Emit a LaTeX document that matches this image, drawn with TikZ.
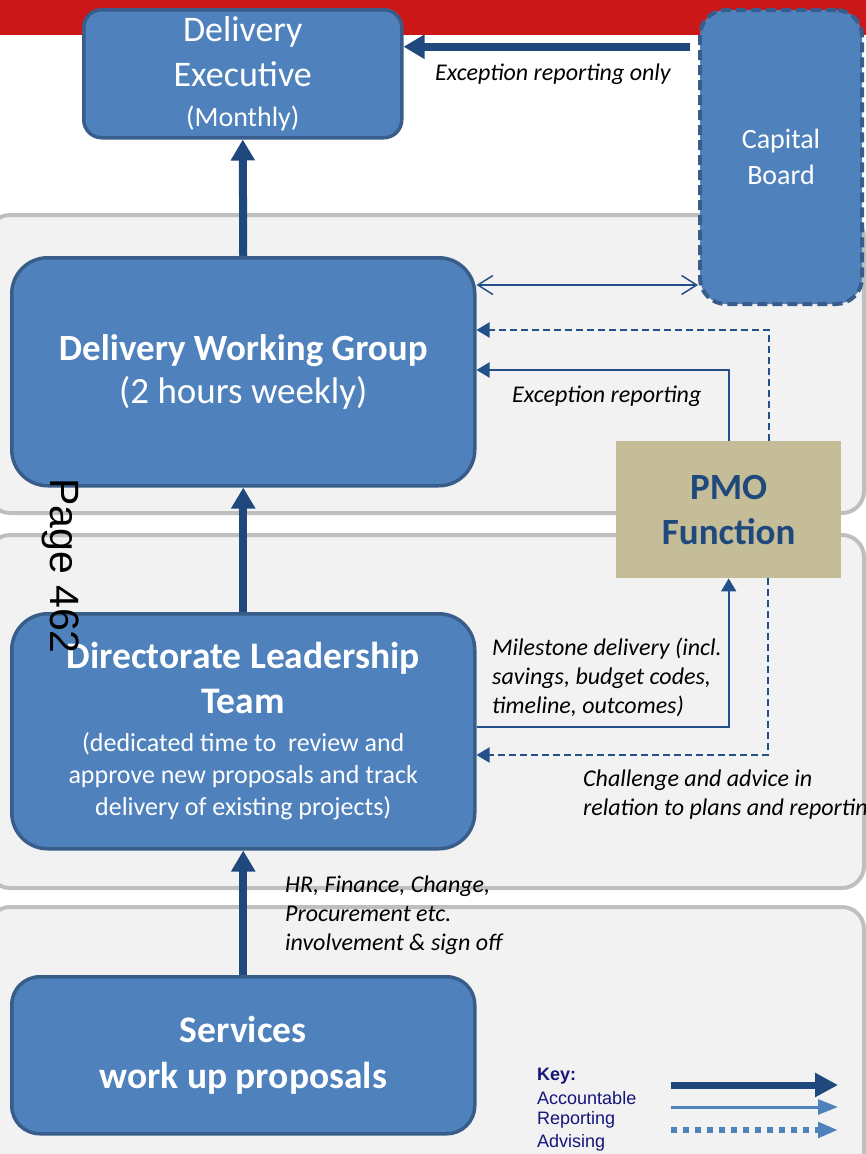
\documentclass[tikz,border=0pt]{standalone}
\usepackage{fontspec}
\setmainfont{Carlito}
\newfontfamily\arialfont{Liberation Sans}
\usetikzlibrary{arrows.meta}
\definecolor{redband}{HTML}{CC1719}
\definecolor{panelline}{HTML}{BFBFBF}
\definecolor{panelfill}{HTML}{F2F2F2}
\definecolor{boxfill}{HTML}{4F81BD}
\definecolor{boxline}{HTML}{385D8A}
\definecolor{accblue}{HTML}{1F497D}
\definecolor{repblue}{HTML}{24508A}
\definecolor{keyrep}{HTML}{4F81BD}
\definecolor{pmofill}{HTML}{C4BD97}
\definecolor{pmotext}{HTML}{1F497D}
\definecolor{keytext}{HTML}{15157A}
\newcommand\dlttitle{\bfseries\fontsize{37.5}{45}\selectfont}
\begin{document}
\begin{tikzpicture}[x=1pt,y=-1pt,
  panel/.style={draw=panelline,fill=panelfill,line width=4pt,rounded corners=22pt},
  bluebox/.style={draw=boxline,fill=boxfill,line width=3.5pt,text=white,align=center,inner sep=0pt,anchor=north west},
  acc/.style={draw=accblue,line width=8pt,-{Triangle[length=21pt,width=23pt]}},
  rep/.style={draw=repblue,line width=2pt,-{Triangle[length=13pt,width=15pt]}},
  adv/.style={draw=repblue,line width=2pt,dash pattern=on 7pt off 4pt,-{Triangle[length=13pt,width=15pt]}},
  bidir/.style={draw=repblue,line width=1.5pt,{Straight Barb[length=15pt,width=19pt]}-{Straight Barb[length=15pt,width=19pt]}},
  lab/.style={font=\fontsize{24}{29}\selectfont\itshape,align=left,inner sep=0pt,anchor=west},
  keytxt/.style={font=\arialfont\fontsize{18}{22}\selectfont,text=keytext,inner sep=0pt,anchor=west},
  keyacc/.style={draw=accblue,line width=7pt,-{Triangle[length=23pt,width=23pt]}},
  keyrepl/.style={draw=keyrep,line width=3pt,-{Triangle[length=20pt,width=15pt]}},
  keyadv/.style={draw=keyrep,line width=6pt,dash pattern=on 6pt off 6pt,-{Triangle[length=20pt,width=15pt]}}
]
\useasboundingbox (0,0) rectangle (866,1154);
\fill[redband] (0,0) rectangle (866,35);
\draw[panel] (-12,215) rectangle (864,513);
\draw[panel] (-12,535) rectangle (864,888);
\draw[panel] (-12,907) rectangle (864,1180);

% boxes
\node[bluebox,rounded corners=18pt,minimum width=318pt,minimum height=128pt,font=\fontsize{36}{45}\selectfont] (de) at (82,8)
  {Delivery\\Executive\\[-5pt]\fontsize{28}{34}\selectfont(Monthly)};
\node[bluebox,rounded corners=26pt,minimum width=162pt,minimum height=294pt,line width=4pt,dash pattern=on 10pt off 5pt,font=\fontsize{28}{36}\selectfont] (cb) at (698,8)
  {Capital\\Board};
\node[bluebox,rounded corners=36pt,minimum width=463pt,minimum height=228pt,font=\fontsize{37}{43}\selectfont] (dwg) at (10,256)
  {\textbf{Delivery Working Group}\\(2 hours weekly)};
\node[fill=pmofill,minimum width=225pt,minimum height=137pt,inner sep=0pt,anchor=north west,align=center,text=pmotext,font=\bfseries\fontsize{37}{45}\selectfont] (pmo) at (616,441)
  {PMO\\Function};
\node[bluebox,rounded corners=36pt,minimum width=463pt,minimum height=235pt,font=\fontsize{26}{32}\selectfont] (dlt) at (10,612)
  {{\dlttitle Directorate Leadership}\\[13pt]{\dlttitle Team}\\[6pt](dedicated time to~ review and\\approve new proposals and track\\delivery of existing projects)};
\node[bluebox,rounded corners=28pt,minimum width=463pt,minimum height=157pt,font=\bfseries\fontsize{37.5}{46}\selectfont] (srv) at (10,975)
  {Services\\work up proposals};

% connectors
\draw[acc] (dwg.north) -- (de.south);
\coordinate (deIn) at ([yshift=27pt]de.east);
\draw[acc,shorten <=8pt] (cb.west |- deIn) -- (deIn);
\node[lab] (l1) at (435,74) {Exception reporting only};
\draw[bidir] (dwg.east |- 0,285) -- (cb.west |- 0,285);
\draw[rep] (pmo.north) |- (dwg.east |- 0,370);
\draw[adv] ([xshift=40.5pt]pmo.north) |- (dwg.east |- 0,330);
\node[lab] (l2) at (512,396) {Exception reporting};
\draw[acc] (dlt.north) -- (dwg.south);
\draw[rep] (dlt.east |- 0,727) -| (pmo.south);
\draw[adv] ([xshift=39.5pt]pmo.south) |- (dlt.east |- 0,755);
\node[lab] (l3) at (492,677) {Milestone delivery (incl.\\savings, budget codes,\\timeline, outcomes)};
\node[lab] (l4) at (583,795) {Challenge and advice in\\relation to plans and reporting};
\draw[acc] (srv.north) -- (dlt.south);
\node[lab] (l5) at (285,915) {HR, Finance, Change,\\Procurement etc.\\involvement \& sign off};

% page number
\node[font=\arialfont\fontsize{41}{41}\selectfont,rotate=-90,anchor=base west,inner sep=0pt] (pg) at (50,478) {Page 462};

% key
\node[keytxt,font=\arialfont\bfseries\fontsize{18}{22}\selectfont] (key) at (537,1076) {Key:};
\node[keytxt] (kacc) at (537,1098) {Accountable};
\node[keytxt] (krep) at (537,1120) {Reporting};
\node[keytxt] (kadv) at (537,1143) {Advising};
\coordinate (k1a) at (671,1085); \coordinate (k1b) at (838,1085);
\coordinate (k2a) at (671,1107); \coordinate (k2b) at (838,1107);
\coordinate (k3a) at (671,1130); \coordinate (k3b) at (838,1130);
\draw[keyacc] (k1a) -- (k1b);
\draw[keyrepl] (k2a) -- (k2b);
\draw[keyadv] (k3a) -- (k3b);
\end{tikzpicture}
\end{document}
